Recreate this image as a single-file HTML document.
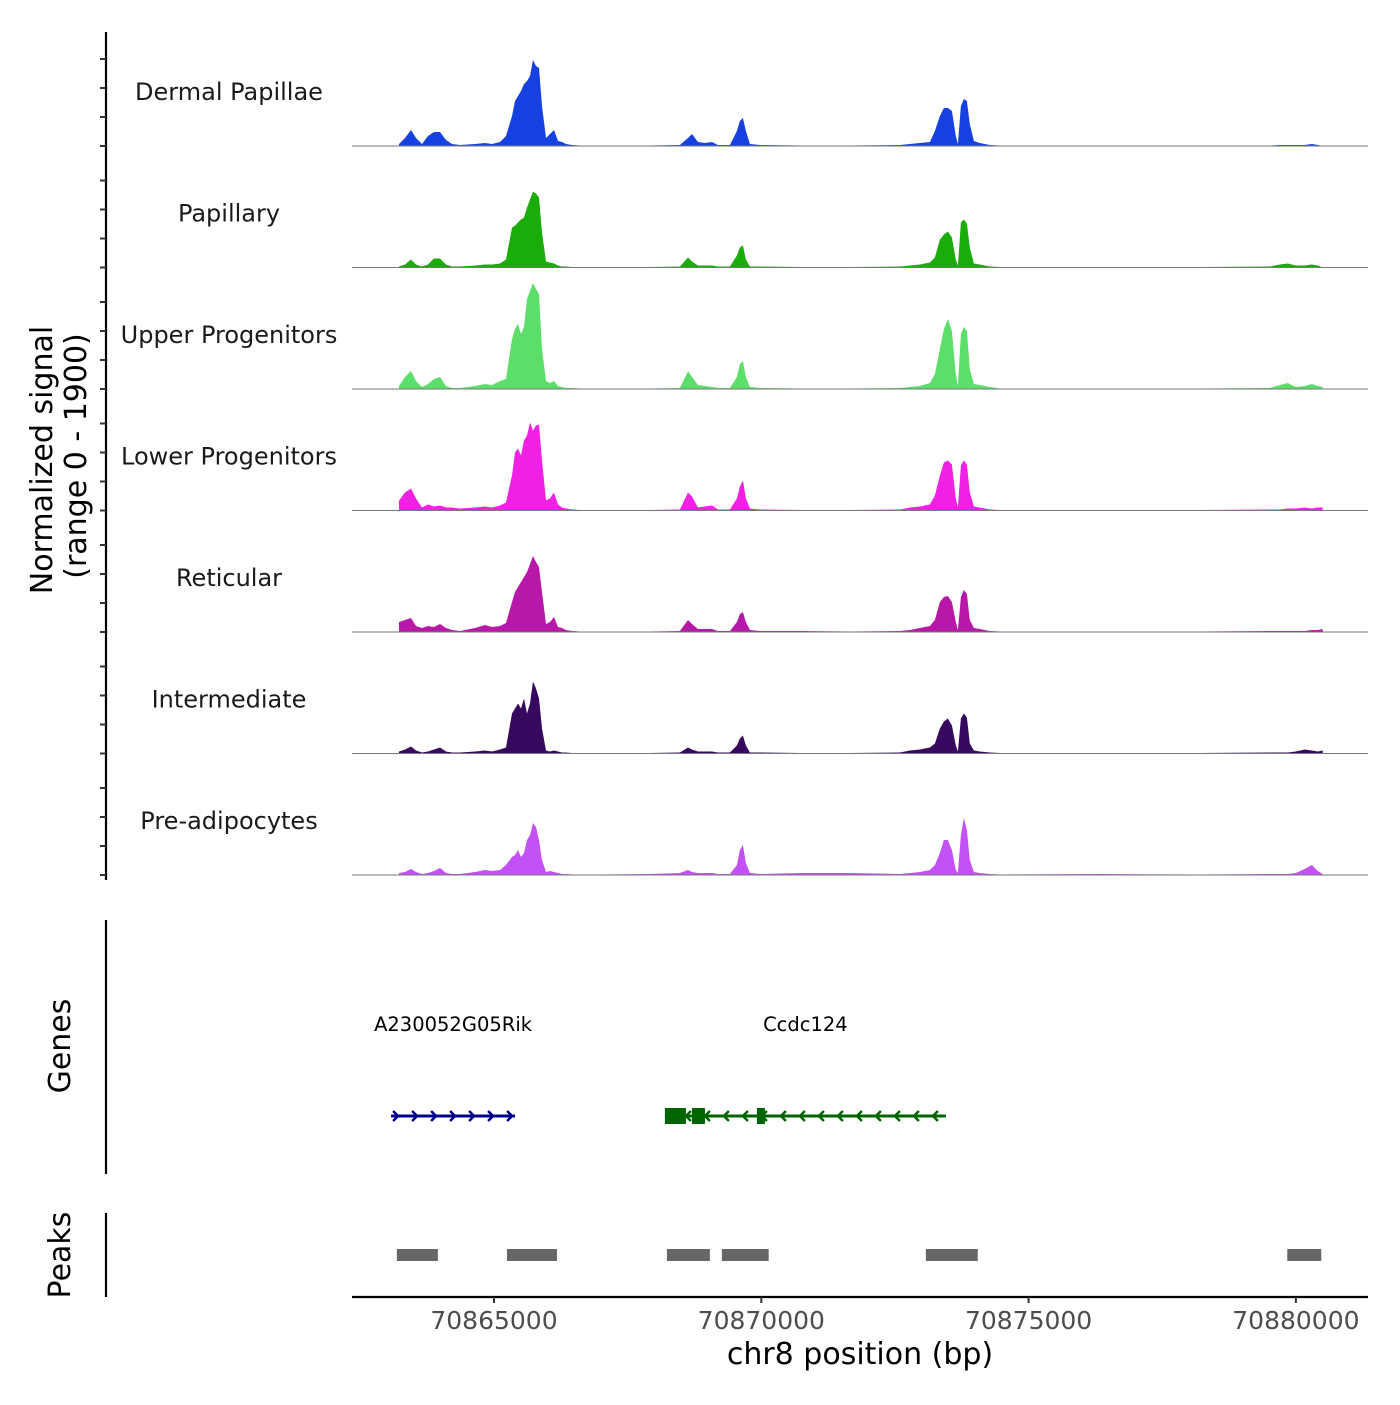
<!DOCTYPE html>
<html><head><meta charset="utf-8"><style>
body{margin:0;background:#fff}
svg text{font-family:"DejaVu Sans","Liberation Sans",sans-serif}
</style></head><body>
<svg id="chart" width="1400" height="1400" xmlns="http://www.w3.org/2000/svg">
<rect width="1400" height="1400" fill="#fff"/>
<g id="tracks"></g>
<g id="leftaxis"></g>
<text transform="translate(52,460) rotate(-90)" text-anchor="middle" font-size="30">Normalized signal</text>
<text transform="translate(86,456) rotate(-90)" text-anchor="middle" font-size="30">(range 0 - 1900)</text>
<line x1="106" y1="920" x2="106" y2="1174" stroke="#000" stroke-width="2.2"/>
<text transform="translate(70,1046) rotate(-90)" text-anchor="middle" font-size="30">Genes</text>
<line x1="106" y1="1213" x2="106" y2="1297" stroke="#000" stroke-width="2.2"/>
<text transform="translate(70,1255) rotate(-90)" text-anchor="middle" font-size="30">Peaks</text>
<g id="genes"></g>
<g id="peaks"></g>
<g id="xaxis"></g>
<text x="860" y="1364" text-anchor="middle" font-size="30">chr8 position (bp)</text>
</svg>
<script>
const trackNames=["Dermal Papillae","Papillary","Upper Progenitors","Lower Progenitors","Reticular","Intermediate","Pre-adipocytes"];
const trackColors=["#1640e0","#1aad0a","#5cdf6a","#f020e4","#b818a8","#36085e","#c252f6"];
const positions=[70863223,70863336,70863448,70863541,70863654,70863766,70863878,70863990,70864102,70864215,70864364,70864645,70864832,70864963,70865112,70865224,70865337,70865393,70865449,70865505,70865561,70865617,70865673,70865729,70865785,70865841,70865898,70865972,70866047,70866122,70866197,70866272,70866346,70866459,70866608,70866982,70867917,70868478,70868628,70868703,70868815,70868946,70869077,70869189,70869413,70869544,70869600,70869656,70869712,70869787,70869974,70870722,70871657,70872592,70872779,70872966,70873153,70873247,70873340,70873415,70873490,70873565,70873639,70873677,70873733,70873789,70873845,70873901,70873976,70874088,70874275,70874462,70876332,70878202,70879511,70879698,70879848,70879997,70880166,70880297,70880409,70880502];
const dermalPapillae=[2,8,16,8,2,10,14,14,6,2,1,2,3,2,4,10,30,45,50,55,62,65,70,86,80,78,40,8,12,16,5,4,2,1,.5,.5,.5,1,8,12,4,3,4,1,1,15,25,28,15,2,1,.5,.5,1,2,3,4,15,30,38,38,35,10,2,40,47,45,22,5,3,1,.5,.5,.5,.5,1,1,1,1,2,1,0];
const papillary=[1,3,8,3,1,3,9,9,3,1,1,2,3,3,4,8,40,42,45,48,50,60,68,76,74,70,35,6,5,4,2,1,1,.5,.5,.5,.5,1,10,6,2,2,2,1,1,12,20,22,8,1,1,.5,.5,1,2,3,5,10,28,33,36,30,8,2,45,48,44,20,4,3,1,.5,.5,.5,1,3,4,2,2,3,2,0];
const upperProgenitors=[3,12,18,8,2,5,10,12,3,1,1,3,5,4,8,10,50,60,65,55,62,90,98,106,100,95,40,8,6,8,3,2,1,1,.5,.5,.5,1,18,12,4,3,2,1,1,12,25,28,12,2,1,.5,.5,1,2,3,6,15,40,60,70,58,15,3,55,62,58,20,5,4,2,.5,.5,.5,1,4,6,2,3,5,3,2];
const lowerProgenitors=[10,18,22,12,3,6,4,5,3,3,2,3,4,3,5,8,35,58,62,55,70,75,88,80,85,86,50,10,12,18,6,3,2,1,.5,.5,.5,1,18,14,3,4,5,1,1,12,24,30,12,2,1,.5,.5,1,3,4,6,15,35,48,50,46,12,3,45,50,46,18,4,3,1,.5,.5,.5,1,1,2,2,3,2,3,3];
const reticular=[10,12,14,6,4,6,5,8,4,2,1,4,7,5,6,9,30,40,45,50,55,60,68,76,70,65,40,8,10,15,5,4,2,1,.5,.5,.5,1,12,8,3,3,3,1,1,10,18,20,10,2,1,1,.5,1,2,4,6,12,30,35,36,30,10,2,35,42,38,12,4,3,1,.5,.5,.5,1,1,1,1,1,2,2,3];
const intermediate=[2,4,7,3,1,2,4,6,2,1,1,2,3,2,4,6,40,45,50,45,55,40,50,72,65,55,25,3,2,3,2,1,1,.5,.5,.5,.5,1,6,4,2,2,2,1,1,8,15,18,8,1,1,.5,.5,1,3,4,6,10,25,32,35,28,8,2,35,40,36,10,3,2,1,.5,.5,.5,1,1,1,2,4,3,2,3];
const preAdipocytes=[2,3,6,3,1,2,4,7,2,1,1,3,5,4,5,10,18,20,25,18,22,35,40,52,48,35,15,3,4,3,2,1,1,.5,.5,.5,1,2,5,3,2,2,2,1,1,10,25,30,12,2,1,2,2,1,2,3,5,10,22,35,35,25,5,2,40,57,45,15,3,2,1,.5,1,.5,1,1,1,2,6,10,4,1];
const trackValues=[dermalPapillae,papillary,upperProgenitors,lowerProgenitors,reticular,intermediate,preAdipocytes];
const xTicks=[70865000,70870000,70875000,70880000];
const xTickLabels=["70865000","70870000","70875000","70880000"];
const peakStarts=[70863183,70865243,70868235,70869263,70873078,70879839];
const peakEnds=[70863950,70866178,70869038,70870138,70874049,70880474];
const geneNames=["A230052G05Rik","Ccdc124"];
const geneStarts=[70863075,70868197];
const geneEnds=[70865393,70873453];
const geneStrands=["+","-"];
const exonStarts=[70868197,70868703,70868778,70869918];
const exonEnds=[70868590,70868815,70868946,70870068];

const NS="http://www.w3.org/2000/svg";
const X0=70865000,PX0=494,PXPERBP=267.3/5000;
function xs(bp){return PX0+(bp-X0)*PXPERBP;}
const trackH=121.5, base0=146, yMax=121.5;
function ys(v,i){return base0+i*trackH-(v/yMax)*trackH;}
function mk(tag,attrs,parent){const e=document.createElementNS(NS,tag);for(const k in attrs)e.setAttribute(k,attrs[k]);parent.appendChild(e);return e;}

const tg=document.getElementById('tracks');
trackValues.forEach((vals,i)=>{
  const g=mk('g',{},tg);
  
  
  const b=ys(0,i);
  let d='M'+xs(positions[0]).toFixed(1)+','+b;
  vals.forEach((v,j)=>{d+=' L'+xs(positions[j]).toFixed(1)+','+ys(v,i).toFixed(1);});
  d+=' L'+xs(positions[positions.length-1]).toFixed(1)+','+b+' Z';
  const p=mk('path',{d:d,fill:trackColors[i]},g);
  
  
  const l=mk('line',{x1:352,x2:1368,y1:b,y2:b,stroke:'#777','stroke-width':1},g);
  
  
  const t=mk('text',{x:229,y:b-46,'text-anchor':'middle','font-size':24,fill:'#1a1a1a'},g);
  t.textContent=trackNames[i];
  
  
});

const la=document.getElementById('leftaxis');
mk('line',{x1:106,x2:106,y1:32,y2:880,stroke:'#000','stroke-width':2.2},la);
for(let i=0;i<7;i++){
  for(let k=0;k<4;k++){
    const y=base0+i*trackH-k*29;
    const tk=mk('line',{x1:100,x2:106,y1:y,y2:y,stroke:'#333','stroke-width':2},la);
    
    
  }
}

const gg=document.getElementById('genes');
const gy=1116;
geneNames.forEach((n,i)=>{
  const col=geneStrands[i]=='+'?'#00008b':'#006400';
  const g=mk('g',{},gg);
  
  
  const x1=xs(geneStarts[i]),x2=xs(geneEnds[i]);
  mk('line',{x1:x1,x2:x2,y1:gy,y2:gy,stroke:col,'stroke-width':3},g);
  for(let x=x1+2;x<x2-2;x+=19){
    const pts=geneStrands[i]=='+'?`${x},${gy-5} ${x+5},${gy} ${x},${gy+5}`:`${x+5},${gy-5} ${x},${gy} ${x+5},${gy+5}`;
    mk('polyline',{points:pts,fill:'none',stroke:col,'stroke-width':2.5},g);
  }
  const t=mk('text',{x:(x1+x2)/2,y:1031,'text-anchor':'middle','font-size':19.5,fill:'#000'},g);
  t.textContent=n;
  
  
});
exonStarts.forEach((s,i)=>{
  const r=mk('rect',{x:xs(s),y:gy-8,width:xs(exonEnds[i])-xs(s),height:16,fill:'#006400'},gg);
  
  
});

const pg=document.getElementById('peaks');
peakStarts.forEach((s,i)=>{
  const r=mk('rect',{x:xs(s),y:1249,width:xs(peakEnds[i])-xs(s),height:12,fill:'#666'},pg);
  
  
});

const xa=document.getElementById('xaxis');
mk('line',{x1:352,x2:1368,y1:1297,y2:1297,stroke:'#000','stroke-width':2.2},xa);
xTicks.forEach((v,i)=>{
  const x=xs(v);
  const tk=mk('line',{x1:x,x2:x,y1:1297,y2:1303,stroke:'#333','stroke-width':2},xa);
  
  
  const t=mk('text',{x:x,y:1329,'text-anchor':'middle','font-size':25,fill:'#4d4d4d'},xa);
  t.textContent=xTickLabels[i];
  
  
});
</script>
</body></html>
